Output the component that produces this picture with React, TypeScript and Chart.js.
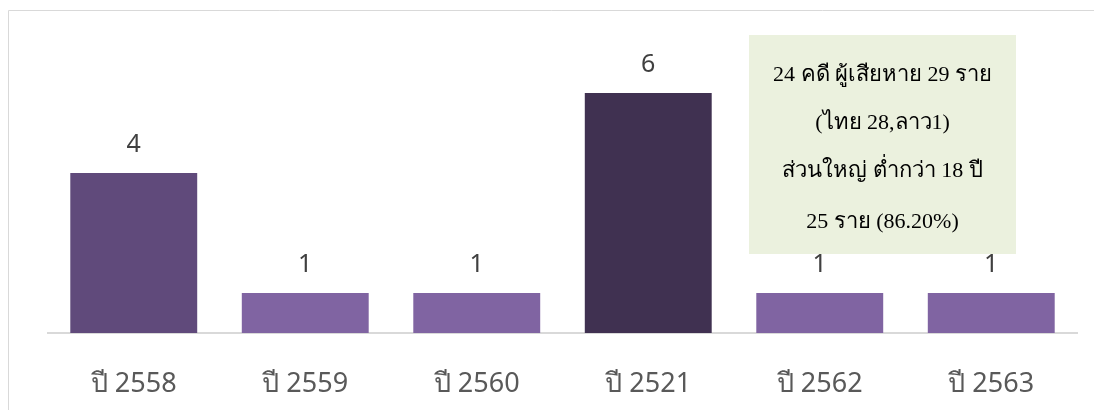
import React, { useEffect, useRef } from "react";
import { Chart, registerables } from "chart.js";

Chart.register(...registerables);

const categories = ["ปี 2558", "ปี 2559", "ปี 2560", "ปี 2521", "ปี 2562", "ปี 2563"];
const caseCounts = [4, 1, 1, 6, 1, 1];
const barColors = ["#604a7b", "#8064a2", "#8064a2", "#403151", "#8064a2", "#8064a2"];
const noteLines = [
  "24 คดี ผู้เสียหาย 29 ราย",
  "(ไทย 28,ลาว1)",
  "ส่วนใหญ่ ต่ำกว่า 18 ปี",
  "25 ราย (86.20%)",
];

const SANS = "'Noto Sans', 'Open Sans', sans-serif";
const SERIF = "'Liberation Serif', 'DejaVu Serif', serif";

const decorPlugin = {
  id: "decor",
  beforeDraw(chart: any) {
    const ctx = chart.ctx;
    ctx.save();
    ctx.strokeStyle = "#d9d9d9";
    ctx.lineWidth = 1;
    ctx.beginPath();
    ctx.moveTo(8.5, chart.height);
    ctx.lineTo(8.5, 10.5);
    ctx.lineTo(chart.width, 10.5);
    ctx.stroke();
    ctx.restore();
  },
  afterDatasetsDraw(chart: any) {
    const ctx = chart.ctx;
    const meta = chart.getDatasetMeta(0);
    ctx.save();
    ctx.font = `25px ${SANS}`;
    ctx.fillStyle = "#404040";
    ctx.textAlign = "center";
    ctx.textBaseline = "bottom";
    meta.data.forEach((bar: any, i: number) => {
      const v = chart.data.datasets[0].data[i];
      ctx.fillText(String(v), bar.x, bar.y - 16);
    });
    // annotation box
    const bx = 749, by = 35, bw = 267, bh = 219;
    ctx.fillStyle = "#ebf1de";
    ctx.fillRect(bx, by, bw, bh);
    ctx.fillStyle = "#000000";
    ctx.font = `22px ${SERIF}`;
    ctx.textBaseline = "middle";
    const ys = [75, 123, 171, 222];
    noteLines.forEach((t, i) => ctx.fillText(t, bx + bw / 2, ys[i]));
    ctx.restore();
  },
};

export default function App() {
  const ref = useRef<HTMLCanvasElement>(null);
  useEffect(() => {
    const chart = new Chart(ref.current!, {
      type: "bar",
      data: {
        labels: categories,
        datasets: [
          {
            data: caseCounts,
            backgroundColor: barColors,
            categoryPercentage: 1,
            barPercentage: 0.74,
          },
        ],
      },
      options: {
        animation: false,
        responsive: false,
        maintainAspectRatio: false,
        layout: { padding: { left: 48, right: 17, top: 13, bottom: 0 } },
        plugins: { legend: { display: false }, tooltip: { enabled: false } },
        scales: {
          x: {
            grid: { display: false },
            border: { display: true, color: "#d9d9d9", width: 2 },
            ticks: { color: "#595959", font: { family: SANS, size: 27 }, padding: 27 },
            afterFit(scale: any) {
              scale.height = 77;
            },
          },
          y: { display: false, min: 0, max: 8 },
        },
      },
      plugins: [decorPlugin],
    });
    return () => chart.destroy();
  }, []);
  return (
    <div style={{ position: "fixed", left: 0, top: 0, width: 1094, height: 410, background: "#fff" }}>
      <canvas ref={ref} width={1094} height={410} style={{ display: "block" }} />
    </div>
  );
}
